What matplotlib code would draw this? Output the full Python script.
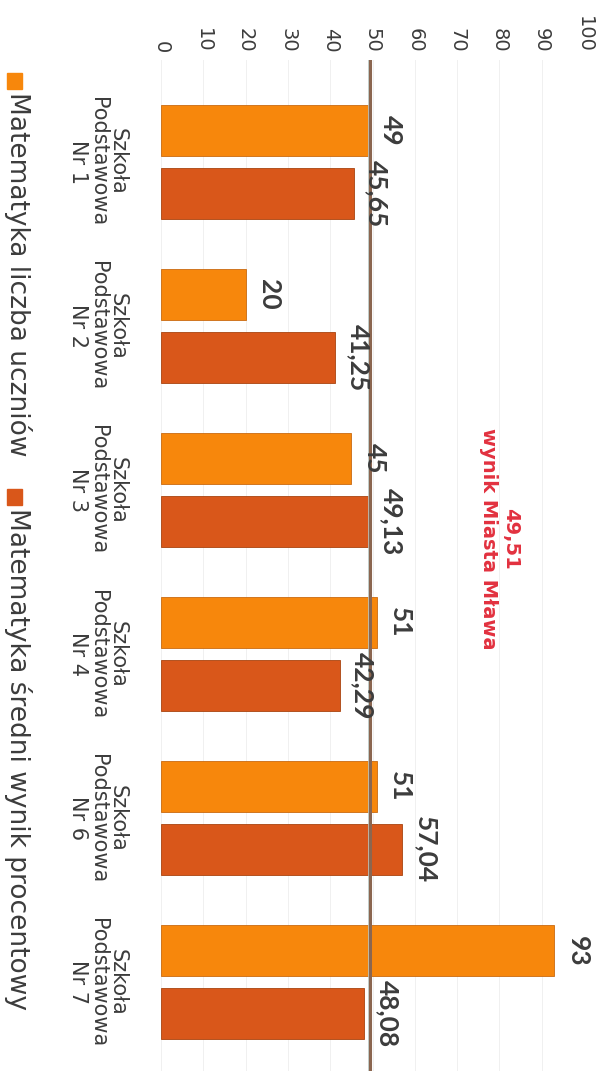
import matplotlib
matplotlib.use("Agg")
import matplotlib.pyplot as plt
from matplotlib.patches import Rectangle
import numpy as np

schools = ["Szkoła\nPodstawowa\nNr 1", "Szkoła\nPodstawowa\nNr 2", "Szkoła\nPodstawowa\nNr 3",
           "Szkoła\nPodstawowa\nNr 4", "Szkoła\nPodstawowa\nNr 6", "Szkoła\nPodstawowa\nNr 7"]
students = [49, 20, 45, 51, 51, 93]
avg_score = [45.65, 41.25, 49.13, 42.29, 57.04, 48.08]
city_avg = 49.51
series_names = ["Matematyka liczba uczniów", "Matematyka średni wynik procentowy"]
x_ticks = [0, 10, 20, 30, 40, 50, 60, 70, 80, 90, 100]

ORANGE = "#f7870c"
DARK = "#d9571a"
RED = "#e2313f"
TXT = "#3c3c3c"


def fmt(v):
    if float(v).is_integer():
        return str(int(v))
    return f"{v:.2f}".replace(".", ",")


fig = plt.figure(figsize=(6.07, 10.71), dpi=100)
ax = fig.add_axes([161 / 607, 0.0, 423 / 607, 1 - 60 / 1071])

y = np.arange(len(schools))
h = 0.31
off = 0.192

ax.barh(y - off, students, height=h, color=ORANGE, edgecolor="#c96a10", linewidth=0.6, zorder=3)
ax.barh(y + off, avg_score, height=h, color=DARK, edgecolor="#a9440f", linewidth=0.6, zorder=3)

# city average line
ax.axvline(city_avg - 0.45, color="#b9c6c2", lw=1.2, zorder=4)
ax.axvline(city_avg, color="#8b6650", lw=2.2, zorder=4)

for yi, v in zip(y - off, students):
    ax.annotate(fmt(v), xy=(v, yi), xytext=(8, 0), textcoords="offset points",
                rotation=-90, ha="left", va="center", fontsize=19, fontweight="bold",
                color=TXT, family="Lato", zorder=5)
for yi, v in zip(y + off, avg_score):
    ax.annotate(fmt(v), xy=(v, yi), xytext=(8, 0), textcoords="offset points",
                rotation=-90, ha="left", va="center", fontsize=19, fontweight="bold",
                color=TXT, family="Lato", zorder=5)

ax.set_xlim(0, 100)
ax.set_ylim(5.54, -0.62)
ax.set_xticks(x_ticks)
ax.xaxis.tick_top()
ax.tick_params(axis="x", length=0, pad=5, labelrotation=-90, labelsize=14, labelcolor=TXT)
for lab in ax.get_xticklabels():
    lab.set_family("DejaVu Sans")

ax.set_yticks(y)
ax.set_yticklabels(schools, rotation=-90, va="center", ha="right", multialignment="center",
                   fontsize=15, color=TXT, family="DejaVu Sans", linespacing=1.0)
ax.tick_params(axis="y", length=0, pad=24)

ax.grid(axis="x", color="#f0f0f0", lw=0.7, zorder=0)
for s in ax.spines.values():
    s.set_visible(False)

# city result note
ax.text(80, 2.3, f"{fmt(city_avg)}\nwynik Miasta Mława", rotation=-90, ha="center", va="center",
        multialignment="center", color=RED, fontsize=14, fontweight="bold", family="DejaVu Sans",
        linespacing=1.2)

# legend drawn rotated like the rest of the chart
fig.add_artist(Rectangle((7 / 607, 1 - 89 / 1071), 15 / 607, 16 / 1071, transform=fig.transFigure,
                         color=ORANGE))
fig.text(18 / 607, 1 - 92 / 1071, series_names[0], rotation=-90, ha="center", va="top",
         fontsize=19, color=TXT, family="DejaVu Sans")
fig.add_artist(Rectangle((7 / 607, 1 - 505 / 1071), 15 / 607, 16 / 1071, transform=fig.transFigure,
                         color=DARK))
fig.text(18 / 607, 1 - 508 / 1071, series_names[1], rotation=-90, ha="center", va="top",
         fontsize=19, color=TXT, family="DejaVu Sans")

fig.savefig("out.png", dpi=100)
